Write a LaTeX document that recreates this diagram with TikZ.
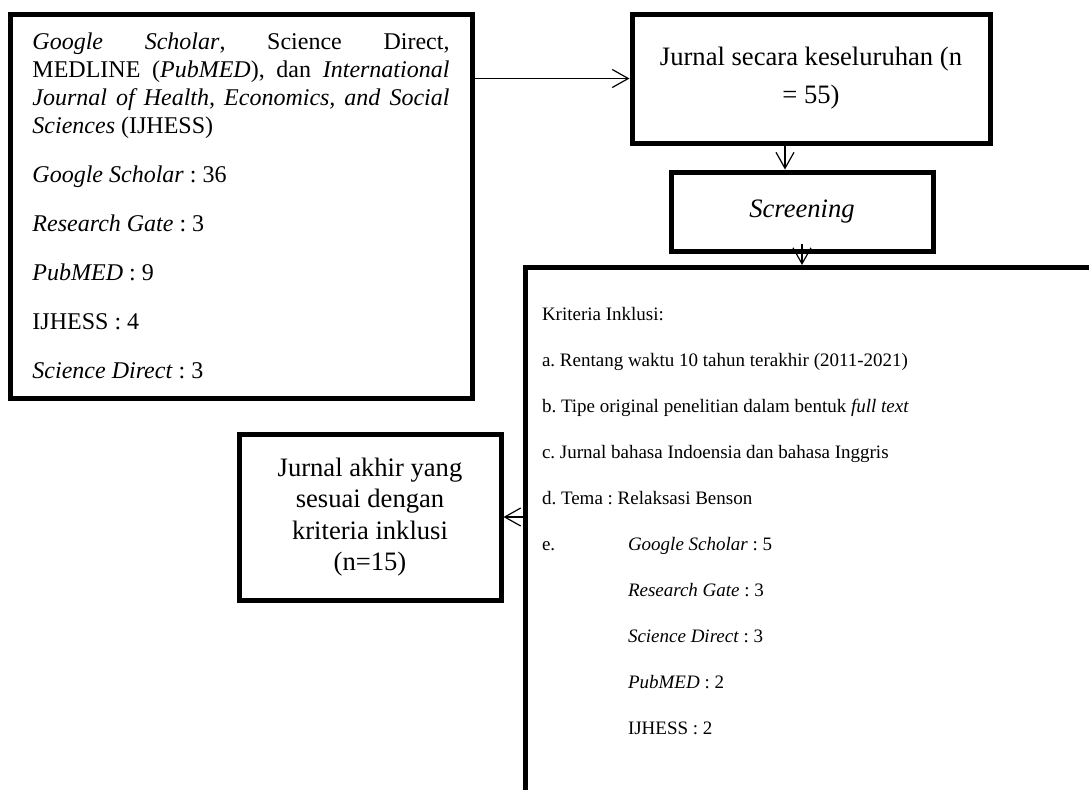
\documentclass[tikz,border=0pt]{standalone}
\usepackage{fontspec}
\setmainfont{Liberation Serif}
\usetikzlibrary{arrows.meta}
\frenchspacing

\begin{document}
\begin{tikzpicture}[x=0.5pt,y=-0.5pt]
  \tikzset{box/.style = {shape=rectangle,draw,line width=2.5pt,inner sep=0pt}}
  \tikzset{arr/.style = {-{Straight Barb[length=8pt,width=9pt]},line width=0.6pt}}

  \useasboundingbox (0,0) rectangle (1089,789);
  \clip (0,0) rectangle (1089,789);

	\node[box,minimum width=231pt,minimum height=192pt,text width=208.5pt,align=justify,font=\fontsize{12}{14}\selectfont\frenchspacing] (src) at (241,206) {\textit{Google Scholar}, Science Direct,\linebreak MEDLINE (\textit{PubMED}), dan \textit{International}\linebreak \textit{Journal of Health, Economics, and Social}\linebreak \textit{Sciences} (IJHESS)\\[10.5pt]
	\textit{Google Scholar} : 36\\[10.5pt]
	\textit{Research Gate} : 3\\[10.5pt]
	\textit{PubMED} : 9\\[10.5pt]
	IJHESS : 4\\[10.5pt]
	\textit{Science Direct} : 3};

	\node[box,minimum width=179pt,minimum height=64.5pt,align=center,font=\fontsize{13.3}{19}\selectfont] (total) at (811,78.5) {Jurnal secara keseluruhan (n\\= 55)};

	\node[box,minimum width=131pt,minimum height=39.5pt,font=\fontsize{13.3}{16}\selectfont] (screen) at (802,211.5) {\textit{Screening}};

	\node[box,anchor=north west,inner xsep=8.25pt,inner ysep=19.75pt] (crit) at (523,265) {%
	  \begin{minipage}[t][231.75pt][t]{270.75pt}
	  \fontsize{9.5}{23}\selectfont\frenchspacing
	  Kriteria Inklusi:\\
	  a. Rentang waktu 10 tahun terakhir (2011-2021)\\
	  b. Tipe original penelitian dalam bentuk \textit{full text}\\
	  c. Jurnal bahasa Indoensia dan bahasa Inggris\\
	  d. Tema : Relaksasi Benson\\
	  \makebox[43pt][l]{e.}\textit{Google Scholar} : 5\\
	  \hspace*{43pt}\textit{Research Gate} : 3\\
	  \hspace*{43pt}\textit{Science Direct} : 3\\
	  \hspace*{43pt}\textit{PubMED} : 2\\
	  \hspace*{43pt}IJHESS : 2
	  \end{minipage}};

	\node[box,minimum width=131pt,minimum height=83pt,align=center,font=\fontsize{13.3}{15.75}\selectfont] (final) at (370,517) {Jurnal akhir yang\\sesuai dengan\\kriteria inklusi\\(n=15)};

  \draw[arr] (src.east |- total.west) -- (total.west);
  \draw[arr] ([xshift=-13pt]total.south) -- ([xshift=-13pt]total.south |- screen.north);
  \draw[arr] ([yshift=5pt]screen.south) -- (screen.south |- crit.north);
  \draw[arr] (crit.west |- final.east) -- (final.east);

\end{tikzpicture}
\end{document}
